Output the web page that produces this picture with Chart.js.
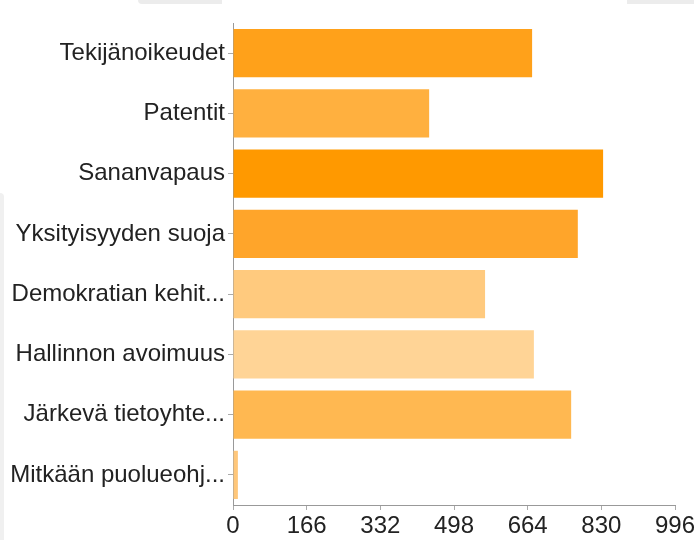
<!DOCTYPE html>
<html>
<head>
<meta charset="utf-8">
<script src="https://cdn.jsdelivr.net/npm/chart.js@4"></script>
<style>
  html, body { margin: 0; padding: 0; background: #fff; }
  #wrap { position: relative; width: 694px; height: 540px; overflow: hidden; }
  .shade { position: absolute; background: #ececec; }
  canvas { position: absolute; left: 0; top: 0; }
</style>
</head>
<body>
<div id="wrap">
  <!-- harmaat reunat kuvakaappauksesta -->
  <div class="shade" style="left:138px;top:0;width:84px;height:4px;border-bottom-left-radius:6px;"></div>
  <div class="shade" style="left:627px;top:0;width:67px;height:4px;"></div>
  <div class="shade" style="left:0;top:193px;width:4px;height:347px;border-top-right-radius:4px;background:#f0f0f0;"></div>
  <canvas id="chart" width="694" height="540"></canvas>
</div>
<script>
// kategoriat ja arvot
const categories = [
  'Tekijänoikeudet',
  'Patentit',
  'Sananvapaus',
  'Yksityisyyden suoja',
  'Demokratian kehit...',
  'Hallinnon avoimuus',
  'Järkevä tietoyhte...',
  'Mitkään puolueohj...'
];
const values = [674, 442, 834, 777, 568, 678, 762, 11];
const barColors = ['#ffa11a', '#ffb03f', '#ff9900', '#ffa52a', '#ffca7e', '#ffd496', '#ffb851', '#ffc77a'];
const xTicks = [0, 166, 332, 498, 664, 830, 996];

const ctx = document.getElementById('chart').getContext('2d');
new Chart(ctx, {
  type: 'bar',
  data: {
    labels: categories,
    datasets: [{
      data: values,
      backgroundColor: barColors,
      borderWidth: 0,
      barPercentage: 0.8,
      categoryPercentage: 1.0
    }]
  },
  options: {
    indexAxis: 'y',
    responsive: false,
    animation: false,
    layout: { padding: { top: 23, right: 19, left: 0, bottom: 0 } },
    plugins: {
      legend: { display: false },
      tooltip: { enabled: false }
    },
    scales: {
      x: {
        min: xTicks[0],
        max: xTicks[xTicks.length - 1],
        afterBuildTicks: function(scale) {
          scale.ticks = xTicks.map(v => ({ value: v }));
        },
        afterFit: function(scale) {
          scale.height = 35;
          scale.paddingLeft = 0;
          scale.paddingRight = 0;
        },
        grid: {
          drawOnChartArea: false,
          drawTicks: true,
          tickLength: 5,
          color: '#aaa'
        },
        border: { color: '#999', width: 1 },
        ticks: {
          color: '#222',
          padding: 2,
          maxRotation: 0,
          font: { family: '"Liberation Sans", Arial, sans-serif', size: 24 }
        }
      },
      y: {
        afterFit: function(scale) { scale.width = 233; },
        grid: {
          offset: false,
          drawOnChartArea: false,
          drawTicks: true,
          tickLength: 5,
          color: '#aaa'
        },
        border: { color: '#999', width: 1 },
        ticks: {
          color: '#222',
          padding: 3,
          font: { family: '"Liberation Sans", Arial, sans-serif', size: 24 }
        }
      }
    }
  }
});
</script>
</body>
</html>
